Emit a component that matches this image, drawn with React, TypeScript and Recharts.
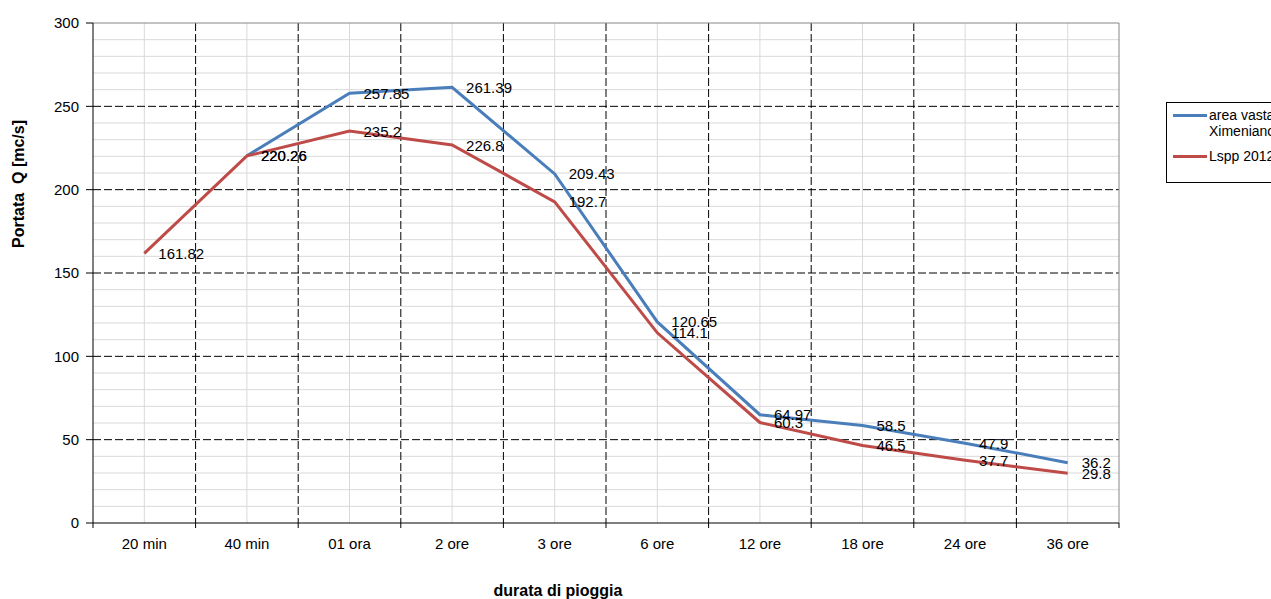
import React from 'react';
import { LineChart, Line, XAxis, YAxis, CartesianGrid, LabelList } from 'recharts';

const categories = ['20 min', '40 min', '01 ora', '2 ore', '3 ore', '6 ore', '12 ore', '18 ore', '24 ore', '36 ore'];
const areaVasta: (number | null)[] = [null, 220.26, 257.85, 261.39, 209.43, 120.65, 64.97, 58.5, 47.9, 36.2];
const lspp: number[] = [161.82, 220.26, 235.2, 226.8, 192.7, 114.1, 60.3, 46.5, 37.7, 29.8];
const seriesNames = ['area vasta Ximeniano', 'Lspp 2012'];
const yTicks = [0, 50, 100, 150, 200, 250, 300];
const minorY = [10, 20, 30, 40, 60, 70, 80, 90, 110, 120, 130, 140, 160, 170, 180, 190, 210, 220, 230, 240, 260, 270, 280, 290];
const majorY = [50, 100, 150, 200, 250];
const xBounds = [0, 1, 2, 3, 4, 5, 6, 7, 8, 9, 10];
const innerBounds = [1, 2, 3, 4, 5, 6, 7, 8, 9];
const yTitle = 'Portata  Q [mc/s]';
const xTitle = 'durata di pioggia';

const BLUE = '#4A7EBB';
const RED = '#BE4B48';
const FONT = '"Liberation Sans", Arial, sans-serif';

const W = 1271;
const H = 599;
const M_TOP = 23;
const M_RIGHT = 152;
const Y_W = 93;
const X_H = 76;
const PLOT_W = W - M_RIGHT - Y_W;
const Y_MAX = 300;
const N = categories.length;

const data = categories.map((c, i) => ({ x: i + 0.5, cat: c, blue: areaVasta[i], red: lspp[i] }));

const toY = (args: any, v: number) => {
  const s = args?.yAxis?.scale;
  if (typeof s === 'function') return s(v);
  const o = args.offset;
  return o.top + o.height * (1 - v / Y_MAX);
};
const toX = (args: any, v: number) => {
  const s = args?.xAxis?.scale;
  if (typeof s === 'function') return s(v);
  const o = args.offset;
  return o.left + (o.width * v) / N;
};

const XTick = (props: any) => {
  const { x, y, payload } = props;
  const i = payload.value;
  if (i >= N) return <g />;
  return (
    <text x={x + PLOT_W / N / 2} y={y + 13} textAnchor="middle" dominantBaseline="central" fontSize={15} fontFamily={FONT} fill="#000">
      {categories[i]}
    </text>
  );
};

const DataLabel = (props: any) => {
  const { x, y, value } = props;
  if (value === null || value === undefined) return <g />;
  return (
    <text x={x + 14} y={y} dominantBaseline="central" fontSize={15} fontFamily={FONT} fill="#000">
      {String(value)}
    </text>
  );
};

export default function App() {
  return (
    <div style={{ position: 'absolute', left: 0, top: 0, width: W, height: H, overflow: 'hidden', background: '#fff', fontFamily: FONT }}>
      <LineChart width={W} height={H} data={data} margin={{ top: M_TOP, right: M_RIGHT, bottom: 0, left: 0 }}>
        <CartesianGrid
          stroke="#D9D9D9"
          horizontalCoordinatesGenerator={(a: any) => minorY.map((v) => toY(a, v))}
          verticalCoordinatesGenerator={(a: any) => data.map((d) => toX(a, d.x))}
        />
        <CartesianGrid
          stroke="#000"
          strokeDasharray="8 3"
          horizontalCoordinatesGenerator={(a: any) => majorY.map((v) => toY(a, v))}
          verticalCoordinatesGenerator={(a: any) => innerBounds.map((v) => toX(a, v))}
        />
        <CartesianGrid
          stroke="#868686"
          horizontalCoordinatesGenerator={(a: any) => [toY(a, Y_MAX)]}
          verticalCoordinatesGenerator={(a: any) => [toX(a, N)]}
        />
        <XAxis
          type="number"
          dataKey="x"
          domain={[0, N]}
          ticks={xBounds}
          interval={0}
          height={X_H}
          tickSize={5}
          tick={<XTick />}
          axisLine={{ stroke: '#000' }}
          tickLine={{ stroke: '#000' }}
        />
        <YAxis
          type="number"
          domain={[0, Y_MAX]}
          ticks={yTicks}
          interval={0}
          width={Y_W}
          tickSize={7}
          tickMargin={7}
          axisLine={{ stroke: '#000' }}
          tickLine={{ stroke: '#000' }}
          tick={{ fontSize: 15, fontFamily: FONT, fill: '#000' }}
        />
        <Line type="linear" dataKey="blue" stroke={BLUE} strokeWidth={3} dot={false} isAnimationActive={false}>
          <LabelList dataKey="blue" content={<DataLabel />} />
        </Line>
        <Line type="linear" dataKey="red" stroke={RED} strokeWidth={3} dot={false} isAnimationActive={false}>
          <LabelList dataKey="red" content={<DataLabel />} />
        </Line>
      </LineChart>
      <svg width={W} height={H} style={{ position: 'absolute', left: 0, top: 0, pointerEvents: 'none' }}>
        <text transform="translate(18,184) rotate(-90)" textAnchor="middle" dominantBaseline="central" fontSize={16} fontWeight="bold" fontFamily={FONT} fill="#000" style={{ whiteSpace: 'pre' }}>
          {yTitle}
        </text>
        <text x={558} y={596} textAnchor="middle" fontSize={16} fontWeight="bold" fontFamily={FONT} fill="#000">
          {xTitle}
        </text>
      </svg>
      <div style={{ position: 'absolute', left: 1166, top: 102, width: 120, height: 79, border: '1px solid #000', background: '#fff', fontSize: 14, color: '#000' }}>
        <div style={{ position: 'absolute', left: 6, top: 11, width: 34, height: 3, background: BLUE }} />
        <div style={{ position: 'absolute', left: 42, top: 4, width: 74, lineHeight: '16px' }}>{seriesNames[0]}</div>
        <div style={{ position: 'absolute', left: 6, top: 52, width: 34, height: 3, background: RED }} />
        <div style={{ position: 'absolute', left: 42, top: 45, width: 74, lineHeight: '16px' }}>{seriesNames[1]}</div>
      </div>
    </div>
  );
}
